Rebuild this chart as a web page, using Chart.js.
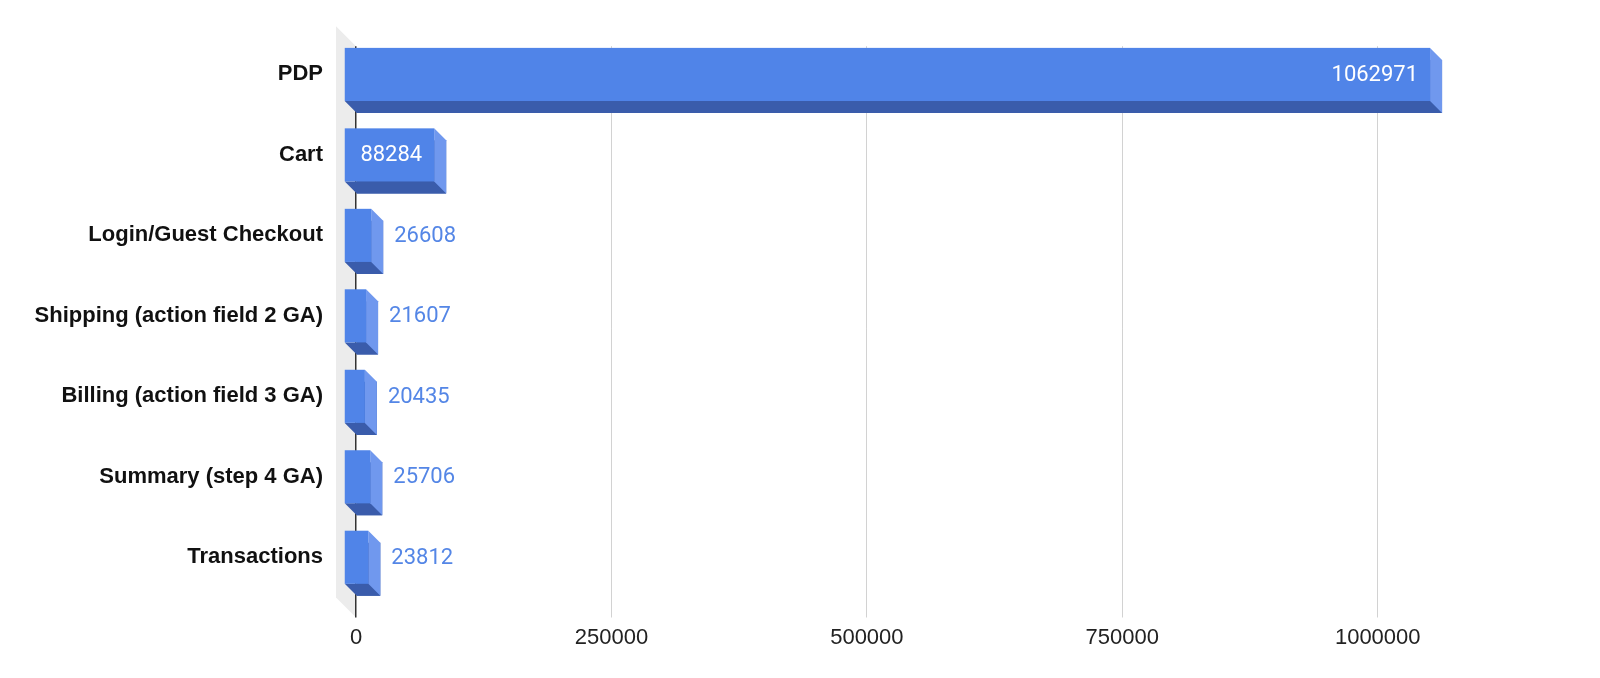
<!DOCTYPE html>
<html>
<head>
    <title>Funnel</title>
    <script src="https://cdn.jsdelivr.net/npm/chart.js"></script>
    <style>
        body { margin: 0; background: white; overflow: hidden; }
        canvas { display: block; }
    </style>
</head>
<body>
    <canvas id="myChart" width="1600" height="678"></canvas>

    <script>
        // data
        const categories = [
            'PDP',
            'Cart',
            'Login/Guest Checkout',
            'Shipping (action field 2 GA)',
            'Billing (action field 3 GA)',
            'Summary (step 4 GA)',
            'Transactions'
        ];
        const values = [1062971, 88284, 26608, 21607, 20435, 25706, 23812];
        const tickValues = [0, 250000, 500000, 750000, 1000000];

        const DEPTH = 12;
        const FRONT = '#5084e8';
        const SIDE = '#7098ee';
        const BOTTOM = '#3a5cab';
        const FONT = "'Liberation Sans', Arial, sans-serif";

        // grey side wall behind the zero line
        const wallPlugin = {
            id: 'wall',
            beforeDraw(chart) {
                const a = chart.chartArea;
                const c = chart.ctx;
                const bottom = a.bottom + 8;
                c.save();
                c.fillStyle = '#ececec';
                c.beginPath();
                c.moveTo(a.left, a.top);
                c.lineTo(a.left, bottom);
                c.lineTo(a.left - 20, bottom - 20);
                c.lineTo(a.left - 20, a.top - 20);
                c.closePath();
                c.fill();
                c.restore();
            }
        };

        // draws the bars as 3d blocks + value labels
        const bar3dPlugin = {
            id: 'bar3d',
            afterDatasetsDraw(chart) {
                const c = chart.ctx;
                const meta = chart.getDatasetMeta(0);
                c.save();
                c.font = '22px Roboto';
                c.textBaseline = 'middle';
                meta.data.forEach((bar, i) => {
                    const p = bar.getProps(['x', 'y', 'base', 'height'], true);
                    const x0 = p.base - DEPTH, x1 = p.x - DEPTH;
                    const y0 = p.y - p.height / 2 - DEPTH, y1 = p.y + p.height / 2 - DEPTH;

                    // bottom face
                    c.fillStyle = BOTTOM;
                    c.beginPath();
                    c.moveTo(x0, y1);
                    c.lineTo(x1, y1);
                    c.lineTo(x1 + DEPTH, y1 + DEPTH);
                    c.lineTo(x0 + DEPTH, y1 + DEPTH);
                    c.closePath();
                    c.fill();

                    // right face
                    c.fillStyle = SIDE;
                    c.beginPath();
                    c.moveTo(x1, y0);
                    c.lineTo(x1 + DEPTH, y0 + DEPTH);
                    c.lineTo(x1 + DEPTH, y1 + DEPTH);
                    c.lineTo(x1, y1);
                    c.closePath();
                    c.fill();

                    // front face
                    c.fillStyle = FRONT;
                    c.fillRect(x0, y0, x1 - x0, y1 - y0);

                    // label
                    const txt = String(values[i]);
                    const w = c.measureText(txt).width;
                    const cy = (y0 + y1) / 2 + 1;
                    if (w + 24 < x1 - x0) {
                        c.fillStyle = '#ffffff';
                        c.textAlign = 'right';
                        c.fillText(txt, x1 - 12, cy);
                    } else {
                        c.fillStyle = '#5486e6';
                        c.textAlign = 'left';
                        c.fillText(txt, p.x + 11, cy);
                    }
                });
                c.restore();
            }
        };

        const ctx = document.getElementById('myChart').getContext('2d');
        window.myChart = new Chart(ctx, {
            type: 'bar',
            data: {
                labels: categories,
                datasets: [{
                    data: values,
                    backgroundColor: BOTTOM,
                    borderWidth: 0,
                    categoryPercentage: 1,
                    barPercentage: 0.66
                }]
            },
            options: {
                indexAxis: 'y',
                responsive: false,
                animation: false,
                devicePixelRatio: 1,
                layout: { padding: { top: 46, right: 69, left: 0, bottom: 0 } },
                plugins: {
                    legend: { display: false },
                    tooltip: { enabled: false }
                },
                scales: {
                    x: {
                        min: 0,
                        max: 1150000,
                        afterBuildTicks: (scale) => {
                            scale.ticks = tickValues.map(v => ({ value: v }));
                        },
                        afterFit: (scale) => { scale.height = 68.5; },
                        border: { display: false },
                        grid: {
                            color: (c) => c.tick && c.tick.value === 0 ? '#333333' : '#d2d2d2',
                            tickColor: (c) => c.tick && c.tick.value === 0 ? '#333333' : '#d2d2d2',
                            lineWidth: (c) => c.tick && c.tick.value === 0 ? 1.5 : 1,
                            drawTicks: true,
                            tickLength: 8
                        },
                        ticks: {
                            padding: 7,
                            color: '#222222',
                            font: { family: FONT, size: 22 },
                            maxRotation: 0,
                            callback: (v) => String(v)
                        }
                    },
                    y: {
                        afterFit: (scale) => { scale.width = 356; },
                        border: { display: false },
                        grid: { display: false, drawTicks: false },
                        ticks: {
                            padding: 33,
                            labelOffset: -12,
                            color: '#111111',
                            font: { family: FONT, size: 22, weight: 'bold' }
                        }
                    }
                }
            },
            plugins: [wallPlugin, bar3dPlugin]
        });
    </script>
</body>
</html>
